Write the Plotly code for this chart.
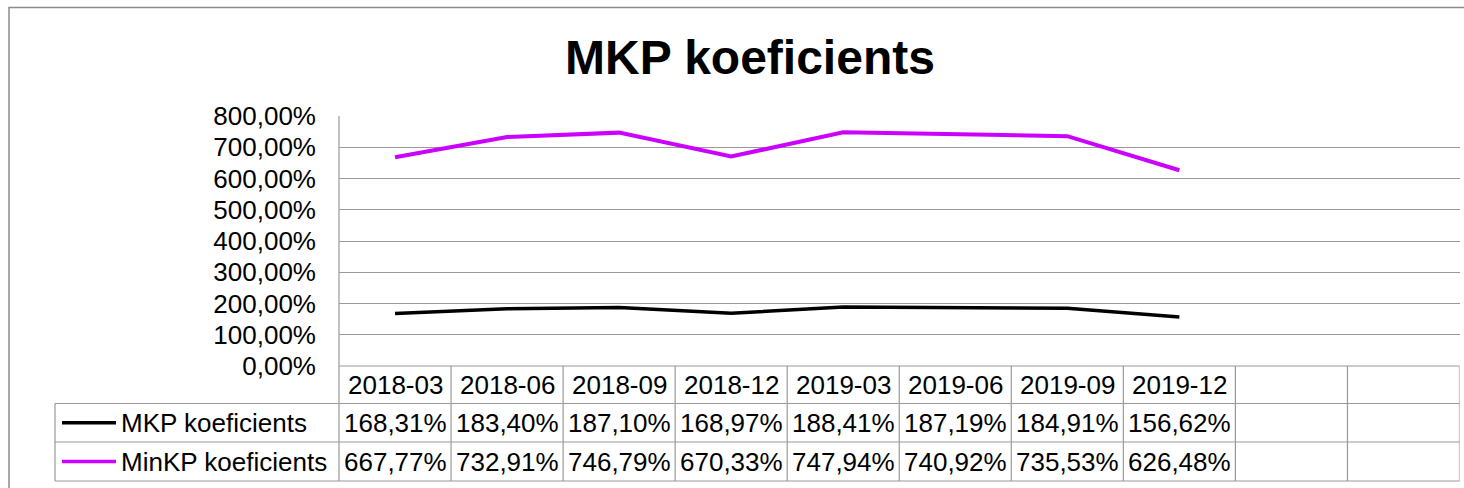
import plotly.graph_objects as go

# ---------------- data ----------------
categories = ["2018-03", "2018-06", "2018-09", "2018-12",
              "2019-03", "2019-06", "2019-09", "2019-12"]
empty_slots = 2  # two empty category columns at the right of the data table
mkp_values = [168.31, 183.40, 187.10, 168.97, 188.41, 187.19, 184.91, 156.62]
minkp_values = [667.77, 732.91, 746.79, 670.33, 747.94, 740.92, 735.53, 626.48]
series_names = ["MKP koeficients", "MinKP koeficients"]
chart_title = "MKP koeficients"
y_tick_values = [0, 100, 200, 300, 400, 500, 600, 700, 800]


def fmt(v):
    return f"{v:.2f}".replace(".", ",") + "%"


y_tick_labels = [fmt(v) for v in y_tick_values]

# ---------------- layout geometry (pixels) ----------------
W, H = 1464, 488


def px(x):
    return x / W


def py(y):
    return 1 - y / H


plot_l, plot_r, plot_t, plot_b = 339, 1459.5, 116, 366
row_edges = [366, 403.5, 442, 481]
legend_l = 55
grid_col = "#999999"
font_family = "Liberation Sans, Arial, sans-serif"
series_colors = ["#000000", "#CC00FF"]
series_widths = [3.5, 4]
n_slots = len(categories) + empty_slots

fig = go.Figure()
series_values = [mkp_values, minkp_values]
for name, vals, col, lw in zip(series_names, series_values, series_colors, series_widths):
    fig.add_trace(go.Scatter(
        x=list(range(len(vals))), y=vals, mode="lines", name=name,
        line=dict(color=col, width=lw), showlegend=False,
        hoverinfo="skip"))

shapes = []
# chart area border
shapes.append(dict(type="rect", xref="paper", yref="paper",
                   x0=px(9), x1=1.2, y0=-0.2, y1=py(7.5),
                   line=dict(color="#8c8c8c", width=1.5), fillcolor="rgba(0,0,0,0)"))
# left axis line + table left line
shapes.append(dict(type="line", xref="paper", yref="paper",
                   x0=px(plot_l), x1=px(plot_l), y0=py(plot_t), y1=py(row_edges[-1]),
                   line=dict(color=grid_col, width=1.2)))
# table horizontal lines
shapes.append(dict(type="line", xref="paper", yref="paper",
                   x0=px(plot_l), x1=px(plot_r), y0=py(row_edges[0]), y1=py(row_edges[0]),
                   line=dict(color=grid_col, width=1.2)))
for ry in row_edges[1:]:
    shapes.append(dict(type="line", xref="paper", yref="paper",
                       x0=px(legend_l), x1=px(plot_r), y0=py(ry), y1=py(ry),
                       line=dict(color=grid_col, width=1.2)))
# legend column left line
shapes.append(dict(type="line", xref="paper", yref="paper",
                   x0=px(legend_l), x1=px(legend_l), y0=py(row_edges[1]), y1=py(row_edges[-1]),
                   line=dict(color=grid_col, width=1.2)))
# category column separators (through x scale)
for k in range(1, n_slots + 1):
    shapes.append(dict(type="line", xref="x", yref="paper",
                       x0=k - 0.5, x1=k - 0.5, y0=py(row_edges[0]), y1=py(row_edges[-1]),
                       line=dict(color=grid_col, width=1.2)))

annotations = []
annotations.append(dict(text=chart_title, xref="paper", yref="paper",
                        x=px(749.5), y=py(58), xanchor="center", yanchor="middle",
                        showarrow=False,
                        font=dict(family=font_family, size=48, color="black", weight="bold")))
cell_font = dict(family=font_family, size=26, color="black")
row_centers = [(row_edges[i] + row_edges[i + 1]) / 2 for i in range(3)]
for i, c in enumerate(categories):
    annotations.append(dict(text=c, xref="x", yref="paper", x=i, y=py(row_centers[0]),
                            xanchor="center", yanchor="middle", showarrow=False, font=cell_font))

for r, (name, vals, col) in enumerate(zip(series_names, series_values, series_colors)):
    yc = row_centers[r + 1]
    for i, v in enumerate(vals):
        annotations.append(dict(text=fmt(v), xref="x", yref="paper", x=i, y=py(yc),
                                xanchor="center", yanchor="middle", showarrow=False,
                                font=cell_font))
    shapes.append(dict(type="line", xref="paper", yref="paper",
                       x0=px(62), x1=px(116), y0=py(yc), y1=py(yc),
                       line=dict(color=col, width=3.5)))
    annotations.append(dict(text=name, xref="paper", yref="paper", x=px(119), y=py(yc),
                            xanchor="left", yanchor="middle", showarrow=False, font=cell_font))

fig.update_layout(
    width=W, height=H,
    margin=dict(l=0, r=0, t=0, b=0, pad=0, autoexpand=False),
    paper_bgcolor="white", plot_bgcolor="white",
    font=dict(family=font_family, color="black"),
    xaxis=dict(domain=[px(plot_l), px(plot_r)], range=[-0.5, n_slots - 0.5],
               visible=False, fixedrange=True),
    yaxis=dict(domain=[py(plot_b), py(plot_t)], range=[0, 800],
               tickmode="array", tickvals=y_tick_values, ticktext=y_tick_labels,
               showgrid=True, gridcolor=grid_col, gridwidth=1.2,
               zeroline=False, showline=False, ticks="",
               ticklabelstandoff=22,
               tickfont=dict(family=font_family, size=26, color="black"),
               fixedrange=True, automargin=False),
    shapes=shapes,
    annotations=annotations,
)

fig.write_html("out.html", config={"displayModeBar": False},
               post_script="document.body.style.margin='0px';document.body.style.overflow='hidden';")
